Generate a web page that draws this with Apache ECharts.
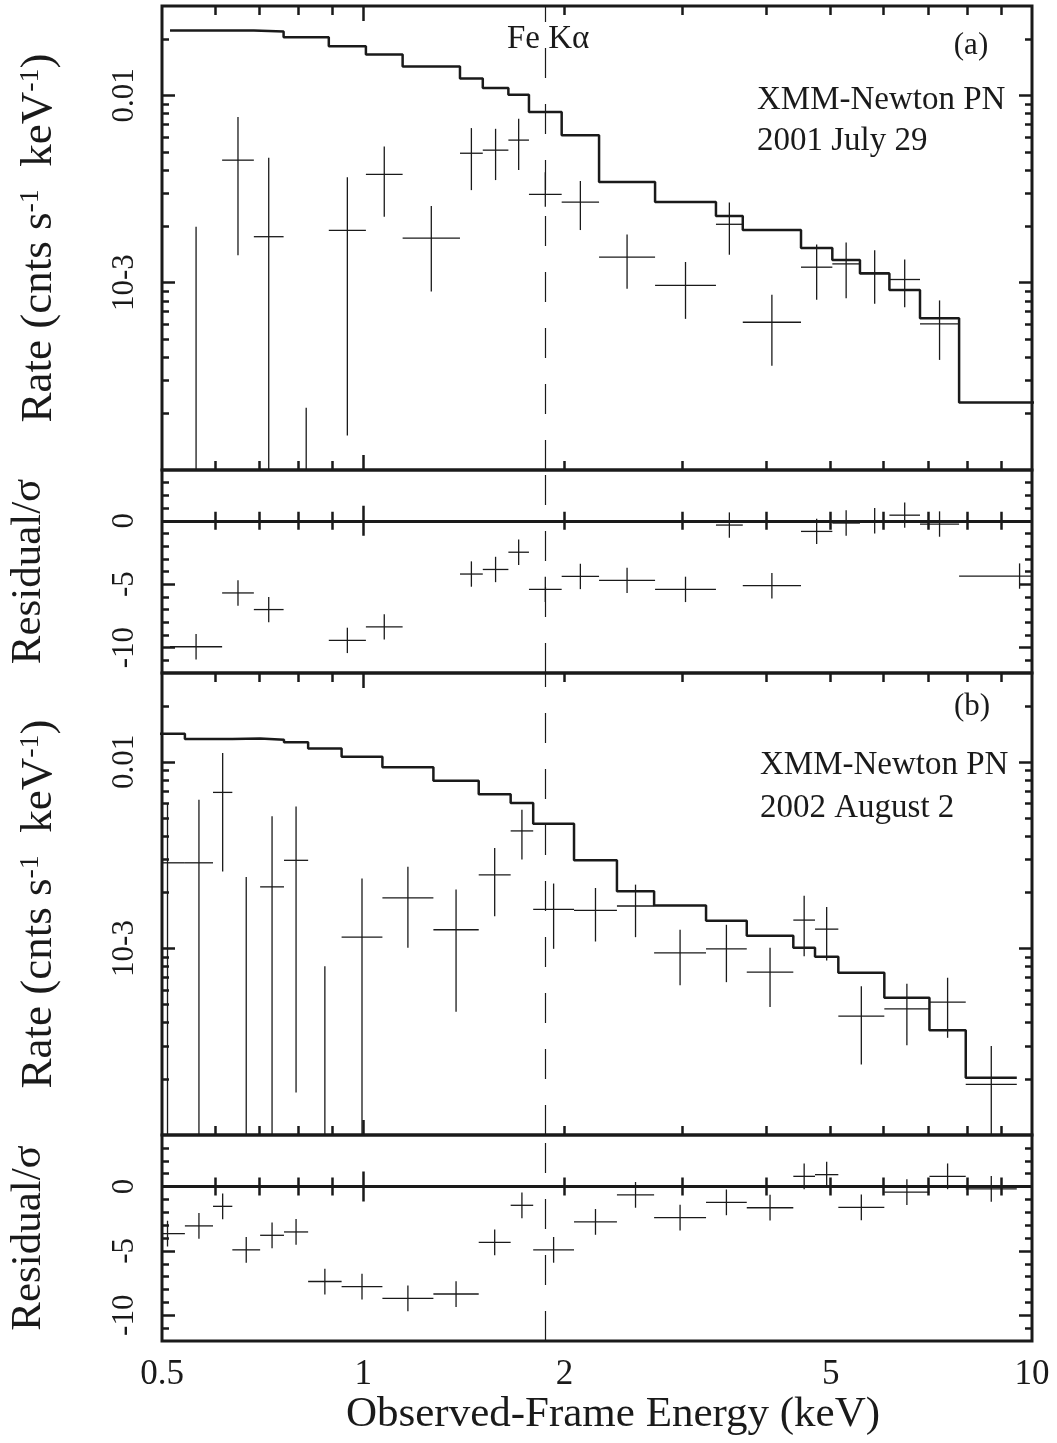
<!DOCTYPE html>
<html lang="en">
<head>
<meta charset="UTF-8">
<title>XMM-Newton PN spectra</title>
<script src="https://cdn.jsdelivr.net/npm/echarts@6.0.0/dist/echarts.min.js"></script>
<style>
  html, body { margin: 0; padding: 0; background: #fff; }
  #main { width: 1057px; height: 1443px; }
</style>
</head>
<body>
<div id="main"></div>
<script>
// ---- panel (a): XMM-Newton PN 2001 July 29 (bin edges in keV) ----
var eLoA = [0.514, 0.615, 0.686, 0.760, 0.888, 1.009, 1.145, 1.395, 1.509, 1.648, 1.769,
            1.980, 2.252, 2.731, 3.368, 3.694, 4.514, 5.028, 5.53, 6.12, 6.80, 7.78];
var eHiA = [0.615, 0.686, 0.760, 0.888, 1.009, 1.145, 1.395, 1.509, 1.648, 1.769, 1.980,
            2.252, 2.731, 3.368, 3.694, 4.514, 5.028, 5.53, 6.12, 6.80, 7.78, 11.8];
var rateA = [null, 4.51e-3, 1.76e-3, null, 1.90e-3, 3.79e-3, 1.73e-3, 4.91e-3, 5.10e-3, 5.77e-3, 2.96e-3,
             2.69e-3, 1.37e-3, 9.67e-4, 2.05e-3, 6.15e-4, 1.21e-3, 1.26e-3, 1.13e-3, 1.04e-3, 6.03e-4, null];
var rateHiA = [1.99e-3, 7.66e-3, 4.65e-3, 2.15e-4, 3.65e-3, 5.33e-3, 2.57e-3, 6.69e-3, 6.63e-3, 7.50e-3, 3.89e-3,
               3.49e-3, 1.81e-3, 1.29e-3, 2.68e-3, 8.62e-4, 1.60e-3, 1.64e-3, 1.49e-3, 1.33e-3, 8.04e-4, null];
var rateLoA = [0, 1.40e-3, 0, 0, 1.53e-4, 2.25e-3, 8.98e-4, 3.12e-3, 3.53e-3, 4.00e-3, 2.54e-3,
               1.91e-3, 9.29e-4, 6.41e-4, 1.41e-3, 3.60e-4, 8.11e-4, 8.27e-4, 7.72e-4, 7.40e-4, 3.87e-4, null];
var modelA = [0.0222, 0.0222, 0.02195, 0.02046, 0.01831, 0.01652, 0.01425, 0.01229, 0.01095, 0.01009, 8.15e-3,
              6.13e-3, 3.45e-3, 2.70e-3, 2.27e-3, 1.91e-3, 1.53e-3, 1.32e-3, 1.12e-3, 9.13e-4, 6.46e-4, 2.29e-4];
var residA = [-9.93, -5.69, -7.0, null, -9.43, -8.36, null, -4.2, -3.84, -2.48, -5.41,
              -4.39, -4.7, -5.41, -0.34, -5.12, -0.84, -0.18, 0.0, 0.44, -0.26, -4.36];

// ---- panel (b): XMM-Newton PN 2002 August 2 ----
var eLoB = [0.480, 0.541, 0.596, 0.637, 0.701, 0.761, 0.827, 0.928, 1.068, 1.273, 1.488, 1.661,
            1.795, 2.066, 2.395, 2.722, 3.255, 3.745, 4.396, 4.737, 5.133, 6.014, 7.025, 7.96];
var eHiB = [0.541, 0.596, 0.637, 0.701, 0.761, 0.827, 0.928, 1.068, 1.273, 1.488, 1.661, 1.795,
            2.066, 2.395, 2.722, 3.255, 3.745, 4.396, 4.737, 5.133, 6.014, 7.025, 7.96, 9.49];
var rateB = [2.88e-3, 2.88e-3, 6.87e-3, null, 2.14e-3, 2.97e-3, null, 1.15e-3, 1.87e-3, 1.26e-3, 2.48e-3, 4.27e-3,
             1.62e-3, 1.60e-3, 1.69e-3, 9.48e-4, 9.96e-4, 7.47e-4, 1.42e-3, 1.27e-3, 4.34e-4, 4.75e-4, 5.16e-4, 1.87e-4];
var rateHiB = [6.03e-3, 6.28e-3, 1.117e-2, 2.42e-3, 5.11e-3, 5.78e-3, 8.04e-4, 2.37e-3, 2.74e-3, 2.07e-3, 3.46e-3, 5.55e-3,
               2.23e-3, 2.11e-3, 2.20e-3, 1.26e-3, 1.34e-3, 1.01e-3, 1.92e-3, 1.67e-3, 6.28e-4, 6.47e-4, 6.97e-4, 3.00e-4];
var rateLoB = [0, 0, 2.59e-3, 0, 0, 1.69e-4, 0, 0, 1.01e-3, 4.58e-4, 1.49e-3, 3.00e-3,
               9.96e-4, 1.09e-3, 1.15e-3, 6.36e-4, 6.60e-4, 4.85e-4, 9.09e-4, 8.62e-4, 2.39e-4, 3.03e-4, 3.32e-4, 0];
var modelB = [0.01418, 0.01328, 0.01328, 0.01338, 0.01316, 0.01274, 0.01182, 0.01068, 9.36e-3, 7.94e-3, 6.71e-3, 6.03e-3,
              4.66e-3, 2.97e-3, 2.03e-3, 1.70e-3, 1.41e-3, 1.17e-3, 1.01e-3, 9.03e-4, 7.41e-4, 5.44e-4, 3.65e-4, 2.03e-4];
var residB = [-3.66, -3.06, -1.54, -4.92, -3.79, -3.53, -7.38, -7.78, -8.69, -8.35, -4.34, -1.46,
              -4.92, -2.75, -0.65, -2.41, -1.23, -1.65, 0.79, 0.92, -1.62, -0.44, 0.79, -0.18];

var feKa = 1.87; // observed Fe K-alpha energy

// ---- ticks / labels ----
var xMinorTicks = [0.6, 0.7, 0.8, 0.9, 2, 3, 4, 5, 6, 7, 8, 9];
var xMajorTicks = [1];
var xTickLabels = [0.5, 1, 2, 5, 10];
var rateMinorTicks = [2e-4, 3e-4, 4e-4, 5e-4, 6e-4, 7e-4, 8e-4, 9e-4,
                      2e-3, 3e-3, 4e-3, 5e-3, 6e-3, 7e-3, 8e-3, 9e-3, 0.02];
var rateMajorTicks = [1e-3, 0.01];
var residMinorTicks = [-11, -9, -8, -7, -6, -4, -3, -2, -1, 1, 2, 3];
var residMajorTicks = [-10, -5, 0];

var INK = '#1a1a1a';
var FONT = 'Liberation Serif';

var panels = [
  { top: 6, height: 464, kind: 'rate' },
  { top: 470, height: 203, kind: 'resid' },
  { top: 673, height: 462, kind: 'rate' },
  { top: 1135, height: 206, kind: 'resid' }
];

function clamp(v, a, b) { return Math.max(a, Math.min(b, v)); }

function seg(x1, y1, x2, y2) {
  return { type: 'line', shape: { x1: x1, y1: y1, x2: x2, y2: y2 },
           style: { stroke: INK, lineWidth: 1.3 } };
}

function rateCross(params, api) {
  var cs = params.coordSys;
  var top = cs.y, bot = cs.y + cs.height, left = cs.x, right = cs.x + cs.width;
  var eL = api.value(0), eH = api.value(1), v = api.value(2), lo = api.value(3), hi = api.value(4);
  var ec = Math.sqrt(eL * eH);
  var xc = api.coord([ec, 1e-3])[0];
  function yOf(val) {
    if (!(val > 0)) return bot;
    return clamp(api.coord([ec, val])[1], top, bot);
  }
  var kids = [];
  if (hi > 0) kids.push(seg(xc, yOf(lo), xc, yOf(hi)));
  if (v > 0) {
    var yv = api.coord([ec, v])[1];
    if (yv >= top && yv <= bot) {
      kids.push(seg(clamp(api.coord([eL, v])[0], left, right), yv,
                    clamp(api.coord([eH, v])[0], left, right), yv));
    }
  }
  return { type: 'group', children: kids };
}

function residCross(params, api) {
  var cs = params.coordSys;
  var top = cs.y, bot = cs.y + cs.height, left = cs.x, right = cs.x + cs.width;
  var eL = api.value(0), eH = api.value(1), r = api.value(2);
  if (isNaN(r)) return { type: 'group', children: [] };
  var ec = Math.sqrt(eL * eH);
  var p = api.coord([ec, r]);
  var kids = [];
  kids.push(seg(p[0], clamp(api.coord([ec, r - 1])[1], top, bot), p[0], clamp(api.coord([ec, r + 1])[1], top, bot)));
  if (p[1] >= top && p[1] <= bot) {
    kids.push(seg(clamp(api.coord([eL, r])[0], left, right), p[1],
                  clamp(api.coord([eH, r])[0], left, right), p[1]));
  }
  return { type: 'group', children: kids };
}

function stepPoints(lo, hi, m) {
  var pts = [];
  for (var i = 0; i < lo.length; i++) {
    pts.push([lo[i], m[i]], [hi[i], m[i]]);
  }
  return pts;
}

function rows(lo, hi, a, b, c) {
  return lo.map(function (e, i) {
    return c ? [e, hi[i], a[i], b[i], c[i]] : [e, hi[i], a[i]];
  });
}

var tickStyle = { color: INK, width: 2.5 };

function makeX(g, pos, ticks, len, withLabels) {
  var ax = {
    type: 'log', logBase: 10, min: 0.5, max: 10, gridIndex: g, position: pos,
    axisLine: { show: false }, splitLine: { show: false },
    axisTick: { show: true, inside: true, length: len, customValues: ticks, lineStyle: tickStyle },
    axisLabel: { show: false }
  };
  if (withLabels) {
    ax.axisLabel = {
      show: true, customValues: xTickLabels, margin: 16, color: INK,
      fontFamily: FONT, fontSize: 35,
      formatter: function (v) { return String(Math.round(v * 10) / 10); }
    };
    ax.name = 'Observed-Frame Energy (keV)';
    ax.nameLocation = 'middle';
    ax.nameGap = 52;
    ax.nameTextStyle = { color: INK, fontFamily: FONT, fontSize: 43, padding: [0, 0, 0, 32] };
  }
  return ax;
}

function makeY(g, kind, pos, ticks, len, withLabels) {
  var ax = {
    gridIndex: g, position: pos,
    axisLine: { show: false }, splitLine: { show: false },
    axisTick: { show: true, inside: true, length: len, customValues: ticks, lineStyle: tickStyle },
    axisLabel: { show: false }
  };
  if (kind === 'rate') {
    ax.type = 'log'; ax.logBase = 10; ax.min = 1e-4; ax.max = 0.03;
  } else {
    ax.type = 'value'; ax.min = -12; ax.max = 4;
  }
  if (withLabels) {
    ax.axisLabel = {
      show: true, rotate: 90, margin: 22, color: INK, fontFamily: FONT, fontSize: 31,
      customValues: kind === 'rate' ? rateMajorTicks : residMajorTicks,
      formatter: kind === 'rate'
        ? function (v) { return Math.abs(Math.log10(v) + 2) < 0.1 ? '0.01' : '10-3'; }
        : function (v) { return String(Math.round(v)); }
    };
    ax.nameLocation = 'middle';
    ax.nameRotate = 90;
    if (kind === 'rate') {
      ax.name = 'Rate (cnts s{s|-1}  keV{s|-1})';
      ax.nameGap = 100;
    } else {
      ax.name = 'Residual/\u03c3';
      ax.nameGap = 112;
    }
    ax.nameTextStyle = {
      color: INK, fontFamily: FONT, fontSize: kind === 'rate' ? 45 : 43,
      rich: { s: { color: INK, fontFamily: FONT, fontSize: 28, verticalAlign: 'top' } }
    };
  }
  return ax;
}

var grids = [], xAxes = [], yAxes = [], series = [];
var feLine = {
  silent: true, symbol: ['none', 'none'], label: { show: false }, animation: false,
  lineStyle: { color: INK, width: 1.2, type: [30, 26] }
};

panels.forEach(function (p, g) {
  grids.push({
    left: 162, width: 870, top: p.top, height: p.height,
    show: true, borderColor: INK, borderWidth: 3, backgroundColor: 'transparent',
    containLabel: false, outerBoundsMode: 'none'
  });
  var xi = xAxes.length;
  xAxes.push(makeX(g, 'bottom', xMinorTicks, 9, g === 3));
  xAxes.push(makeX(g, 'bottom', xMajorTicks, 15, false));
  xAxes.push(makeX(g, 'top', xMinorTicks, 9, false));
  xAxes.push(makeX(g, 'top', xMajorTicks, 15, false));
  var yi = yAxes.length;
  var minor = p.kind === 'rate' ? rateMinorTicks : residMinorTicks;
  var major = p.kind === 'rate' ? rateMajorTicks : residMajorTicks;
  yAxes.push(makeY(g, p.kind, 'left', minor, 7, true));
  yAxes.push(makeY(g, p.kind, 'left', major, 13, false));
  yAxes.push(makeY(g, p.kind, 'right', minor, 7, false));
  yAxes.push(makeY(g, p.kind, 'right', major, 13, false));

  var isA = g < 2;
  if (p.kind === 'rate') {
    series.push({
      type: 'line', xAxisIndex: xi, yAxisIndex: yi, silent: true, clip: true,
      showSymbol: false, symbol: 'none',
      lineStyle: { color: INK, width: 2.5 },
      data: isA ? stepPoints(eLoA, eHiA, modelA) : stepPoints(eLoB, eHiB, modelB),
      markLine: Object.assign({ data: [{ xAxis: feKa }] }, feLine)
    });
    series.push({
      type: 'custom', xAxisIndex: xi, yAxisIndex: yi, silent: true,
      encode: { x: 0, y: 4 },
      renderItem: rateCross,
      data: isA ? rows(eLoA, eHiA, rateA, rateLoA, rateHiA) : rows(eLoB, eHiB, rateB, rateLoB, rateHiB)
    });
  } else {
    series.push({
      type: 'custom', xAxisIndex: xi, yAxisIndex: yi, silent: true,
      encode: { x: 0, y: 2 },
      renderItem: residCross,
      data: isA ? rows(eLoA, eHiA, residA) : rows(eLoB, eHiB, residB),
      markLine: {
        silent: true, symbol: ['none', 'none'], label: { show: false }, animation: false,
        data: [
          { yAxis: 0, lineStyle: { color: INK, width: 2.8, type: 'solid' } },
          { xAxis: feKa, lineStyle: { color: INK, width: 1.2, type: [30, 26] } }
        ]
      }
    });
  }
});

function label(x, y, text, size, align) {
  return {
    type: 'text', x: x, y: y, silent: true,
    style: { text: text, fill: INK, font: size + 'px "' + FONT + '"', align: align || 'left', verticalAlign: 'middle' }
  };
}

var chart = echarts.init(document.getElementById('main'));
chart.setOption({
  animation: false,
  backgroundColor: '#ffffff',
  grid: grids,
  xAxis: xAxes,
  yAxis: yAxes,
  series: series,
  graphic: [
    label(507, 39, 'Fe K\u03b1', 33),
    label(971, 46, '(a)', 31, 'center'),
    label(757, 100, 'XMM-Newton PN', 33),
    label(757, 141, '2001 July 29', 33),
    label(972, 707, '(b)', 31, 'center'),
    label(760, 765, 'XMM-Newton PN', 33),
    label(760, 808, '2002 August 2', 33)
  ]
});
</script>
</body>
</html>
